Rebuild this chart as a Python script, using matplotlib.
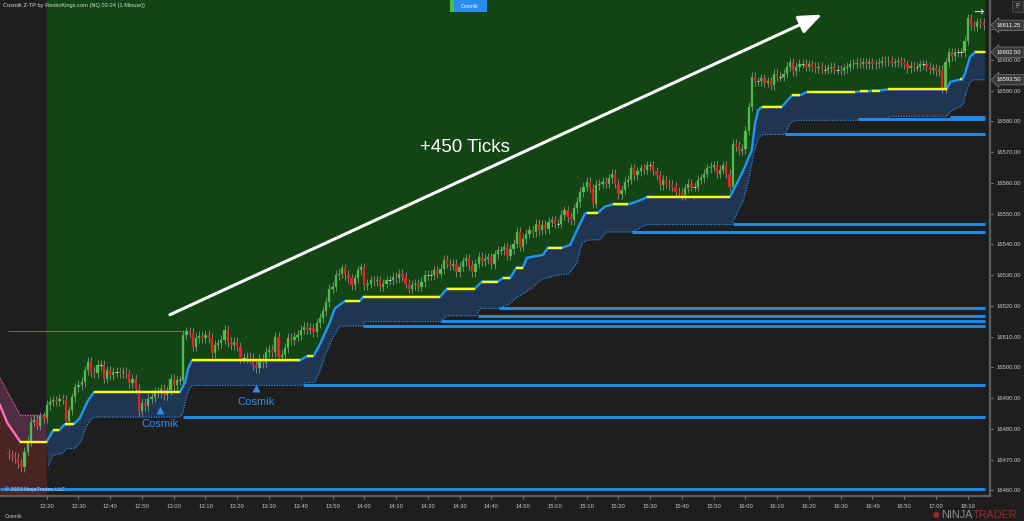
import matplotlib.pyplot as plt
import matplotlib.transforms as mtransforms
import numpy as np
from matplotlib.collections import LineCollection
from matplotlib.patches import Polygon, Rectangle

plt.rcParams['font.family'] = ['Liberation Sans', 'DejaVu Sans']

# ---- data -------------------------------------------------------------
# NQ 03-24, 1 minute bars, index 0 = 12:20 (bar before session break at 280)
first_open = 16472.0
closes = [
    16471.75, 16471, 16470.5, 16468.75, 16467.5, 16472.5, 16476, 16482.25, 16483, 16481, 16484, 16483.5, 16487.75,
    16488.75, 16489.25, 16489, 16489.75, 16489.5, 16482.5, 16486, 16490.25, 16493.5, 16494.25,
    16495.25, 16499, 16501.75, 16498.5, 16498, 16500.75, 16500.75, 16496.25, 16499, 16497.5,
    16498.5, 16498.5, 16498, 16498.5, 16498, 16494.75, 16496.25, 16493, 16485.75, 16488.5,
    16487.25, 16489.75, 16490.25, 16492, 16491.5, 16493, 16491, 16492.5, 16496.25, 16494.25,
    16495.75, 16495.75, 16510.5, 16511.75, 16511.25, 16506.75, 16509.5, 16510.25, 16509.5, 16510.5,
    16509.5, 16504.5, 16507.25, 16507.75, 16509, 16512.25, 16508.25, 16507.25, 16508.25, 16506.75,
    16503, 16503, 16503.5, 16503, 16500.75, 16499.75, 16502.75, 16501.25, 16505, 16505.75,
    16505, 16510, 16503.5, 16504, 16506.25, 16509.5, 16508.75, 16510, 16510.5, 16512.25,
    16513.25, 16512.25, 16512.75, 16511.5, 16514.25, 16516, 16518.25, 16521.25, 16525.5, 16526.25,
    16530, 16530.5, 16532.25, 16530, 16529, 16526.75, 16529, 16531.5, 16532.5, 16526.75,
    16527.25, 16528.25, 16528, 16528.25, 16526.25, 16527.25, 16528.25, 16528.25, 16529.5, 16529,
    16530.5, 16529.5, 16527.25, 16525.5, 16526.75, 16527.25, 16526.25, 16527.75, 16530, 16530,
    16530, 16531.5, 16530.5, 16532, 16535, 16533.75, 16533, 16533.75, 16531, 16532.75,
    16534.5, 16535.5, 16533.25, 16531, 16533.75, 16536, 16534.5, 16535.25, 16535.75, 16533.5,
    16536.75, 16538, 16538, 16539, 16536.25, 16538.5, 16540.25, 16544, 16539.25, 16541.75,
    16543.5, 16544.5, 16544, 16546.75, 16544.5, 16546.25, 16545, 16547.25, 16547.75, 16546.75,
    16546.75, 16549.5, 16551, 16548.75, 16547.75, 16551.75, 16553.75, 16557, 16558.75, 16560.25,
    16558.25, 16553.25, 16559.25, 16559.75, 16560.25, 16559.75, 16561.5, 16563, 16559.75, 16556.25,
    16557.75, 16560.25, 16561, 16564.75, 16562.5, 16563.75, 16564.75, 16564.25, 16565.75, 16565.75,
    16563.75, 16562.5, 16559.25, 16561, 16559.75, 16559.25, 16558.75, 16557,
    16556.75, 16556, 16558.25, 16559.75, 16558.75, 16558.75, 16561, 16561.5, 16563, 16564.75,
    16565.25, 16565.75, 16563, 16564.25, 16565.75, 16563, 16558.75, 16572.75, 16572, 16570.5,
    16571, 16577, 16584.75, 16594.5, 16593, 16593, 16594, 16592.5, 16593, 16591.75,
    16595.5, 16594.5, 16594.5, 16595.5, 16597.75, 16599.25, 16596.25, 16597.75, 16598.75, 16598.75,
    16597.75, 16598.5, 16597.75, 16597.25, 16597.75, 16596.75, 16596.75, 16597.25, 16597.75, 16596.75,
    16596.75, 16596.5, 16597.25, 16597.75, 16598.5, 16598.75, 16599, 16598.75, 16599.25, 16598.5,
    16599.25, 16598.5, 16598.75, 16599, 16599.75, 16599.5, 16599.75, 16599, 16599.25, 16599.5,
    16599, 16598.5, 16597.25, 16598, 16597.75, 16597.75, 16598.5, 16598.5, 16597.75, 16596.75,
    16597.25, 16596.25, 16596.75, 16590.75, 16599.25, 16602.5, 16601.25, 16602.5, 16602.5, 16602.5,
    16606.25, 16613.5, 16611.25, 16610.75, 16612.25, 16612, 16611.25,
]
bar_idx = np.arange(-12, -12 + len(closes))

# Z-TP line while short (bars, price)
down_x = [-14.7, -12.4, -8.3, 0]
down_y = [16487.7, 16481.9, 16475.75, 16475.75]
down_dot_x = [-14.7, -8.3, 0]
down_dot_y = [16496.5, 16484.4, 16484.4]

# Z-TP line while long
up_x = [0, 2, 3.9, 5.7, 8.5, 10.4, 12.8, 14.9, 42, 43.6, 44.6, 45.7, 79.7, 81.9, 84, 86.1, 89.2, 90.7,
        93.4, 93.9, 98.6, 99.6, 123.9, 126, 134.8, 137.1, 142.1, 143.7, 145.9, 147.9, 149.9, 151.2,
        156.3, 157.8, 162.3, 164.8, 166.9, 169.5, 170.1, 173.6, 175.7, 178.2, 183.1, 185.2, 187.7,
        189, 215.1, 217, 219.3, 222, 223, 224, 225.2, 231.4, 233.4, 234.7, 237.2, 239.3, 254.5,
        256.1, 258.6, 259.8, 262.3, 264.9, 283.4, 284.5, 287.6, 288.3, 289.1, 290.7, 292.3, 295.4]
up_y = [16475.75, 16479.5, 16479.5, 16481.5, 16481.5, 16483.4, 16488.8, 16492, 16492, 16495.2,
        16499.7, 16502.25, 16502.25, 16503.6, 16503.6, 16507.6, 16514.75, 16519.1, 16521.2, 16521.5,
        16521.5, 16522.9, 16522.9, 16525.6, 16525.6, 16527.9, 16527.9, 16529.05, 16529.05, 16532.4,
        16532.4, 16535.6, 16536.6, 16538.9, 16538.9, 16539.8, 16544.5, 16550, 16550.25, 16550.25,
        16552.25, 16552.95, 16552.95, 16553.7, 16554.7, 16555.4, 16555.4, 16559.2, 16564, 16570.6,
        16579.2, 16583.6, 16584.7, 16584.7, 16587, 16588.45, 16588.45, 16589.5, 16589.5, 16589.7,
        16589.7, 16590, 16590, 16590.4, 16590.4, 16592.8, 16593.6, 16593.6, 16595.5, 16600.9,
        16602.5, 16602.5]
low_x = [0.5, 2, 4.7, 6.3, 9, 11, 12.6, 14.1, 15.2, 42, 42.8, 44.1, 45.2, 46.2, 80.3, 80.8, 84.5,
         86.1, 87.7, 90.2, 92.3, 99.7, 100.1, 124.3, 126, 135.4, 136.4, 142.4, 145.4, 148.4, 152.1,
         156.3, 160.6, 164.3, 166.9, 168.5, 170, 174.2, 176.3, 184.2, 187.9, 189, 215.7, 217.3,
         219.3, 221, 222.6, 224.1, 225.2, 232.4, 234, 235.6, 255.4, 255.8, 264, 265.6, 283.4, 285,
         287.6, 288.6, 289.7, 290.7, 291.8, 295.4]
low_y = [16468.1, 16471.4, 16471.9, 16473.6, 16473.6, 16476.3, 16481.1, 16483.3, 16483.8, 16483.8,
         16484.9, 16490.85, 16493.6, 16494.1, 16494.1, 16494.9, 16495.2, 16499, 16503.9, 16509.9,
         16513.4, 16513.4, 16514.85, 16514.85, 16516.8, 16516.8, 16519.1, 16519.1, 16520.5, 16523,
         16525.3, 16528.8, 16529.9, 16530.4, 16533.7, 16540.2, 16541.3, 16541.5, 16544, 16544,
         16545.9, 16546.4, 16546.4, 16550, 16554.3, 16560.8, 16569.5, 16574.4, 16575.7, 16575.7,
         16579.2, 16580.3, 16580.3, 16580.9, 16580.9, 16581.6, 16581.6, 16583.6, 16584.7, 16585.8,
         16590, 16592.8, 16593.5, 16593.5]

# levels left behind by the trailing stop
sup_start = [-14.7, 42.9, 80.7, 99.6, 124.3, 135.8, 142.4, 184.2, 216.1, 232.5, 255.4, 284.4]
sup_price = [16460.4, 16483.9, 16494.2, 16513.3, 16514.9, 16516.8, 16519.2, 16544.1, 16546.5,
             16575.8, 16580.6, 16581.5]

prior_high = 16511.8
prior_high_span = (-12.2, 42.6)

sig_x = [35.7, 65.9]
sig_y = [16486.1, 16493.3]

move_from = (38.8, 16517.1)
move_to = (244.1, 16614.7)
move_label = '+450 Ticks'
move_label_at = (117.5, 16571.4)

tick_pos = list(range(0, 290, 10)) + [290]
tick_lab = ['12:20', '12:30', '12:40', '12:50', '13:00', '13:10', '13:20', '13:30', '13:40', '13:50',
            '14:00', '14:10', '14:20', '14:30', '14:40', '14:50', '15:00', '15:10', '15:20', '15:30',
            '15:40', '15:50', '16:00', '16:10', '16:20', '16:30', '16:40', '16:50', '17:00', '18:10']
price_ticks = list(range(16460, 16611, 10))
tags = [16611.25, 16602.50, 16593.50]

# ---- colours ----------------------------------------------------------
BG = '#1e1e1e'
GREEN = '#134413'
NAVY = '#1f3551'
RED_BG = '#4a2323'
PURPLE = '#4e2c41'
BLUE = '#2196f3'
SUP = '#1e88e5'
YELLOW = '#ffff00'
PINK = '#ff6eb4'
UPC = '#52c452'
DNC = '#f0232a'
WICK = 1.5

fig = plt.figure(figsize=(10.24, 5.21), dpi=100, facecolor=BG)
ax = fig.add_axes([0, 25.3 / 521, 990 / 1024, 495.7 / 521])
ax.set_facecolor(BG)
ax.set_xlim(-14.7, 297.0)
ax.set_ylim(16458.24, 16619.45)
y_bot, y_top = ax.get_ylim()

# zones
up_pts = list(zip(up_x, up_y))
ax.add_patch(Polygon([(up_x[0], y_top)] + up_pts + [(up_x[-1], y_top)], fc=GREEN, ec='none', zorder=0.5))
ax.add_patch(Polygon(up_pts + list(zip(low_x, low_y))[::-1], fc=NAVY, ec='none', zorder=0.6))
dn_pts = list(zip(down_x, down_y))
ax.add_patch(Polygon(dn_pts + [(down_x[-1], y_bot), (down_x[0], y_bot)], fc=RED_BG, ec='none', zorder=0.5))
ax.add_patch(Polygon(list(zip(down_dot_x, down_dot_y)) + dn_pts[::-1], fc=PURPLE, ec='none', zorder=0.5))

# levels
ax.hlines(sup_price, sup_start, up_x[-1], color=SUP, lw=2.2, zorder=2)
ax.hlines(prior_high, *prior_high_span, color='#8a7a70', lw=0.6, zorder=2)

# dotted band edges
ax.plot(low_x, low_y, color='#3290e8', lw=0.85, ls=(0, (1, 1.2)), zorder=3)
ax.plot(down_dot_x, down_dot_y, color=PINK, lw=0.85, ls=(0, (1, 1.2)), zorder=3)

# candles
closes = np.array(closes)
opens = np.concatenate([[first_open], closes[:-1]])
rise = closes > opens
fall = closes < opens
flat = ~(rise | fall)
lo = np.minimum(opens, closes)
hi = np.maximum(opens, closes)
ax.vlines(bar_idx, lo - WICK, hi + WICK, color='#8e8e8e', lw=0.6, zorder=3.5)
ax.bar(bar_idx[rise], (closes - opens)[rise], bottom=opens[rise], width=0.7,
       color=UPC, edgecolor='#3c9c3c', lw=0.3, zorder=4)
ax.bar(bar_idx[fall], (opens - closes)[fall], bottom=closes[fall], width=0.7,
       color=DNC, edgecolor='#b01a1a', lw=0.3, zorder=4)
ax.hlines(closes[flat], bar_idx[flat] - 0.4, bar_idx[flat] + 0.4, color='#d0d0d0', lw=0.7, zorder=4)

# trailing line: coloured by slope
ax.plot(up_x, up_y, color=BLUE, lw=1.7, solid_joinstyle='round', zorder=5)
ax.plot(down_x[:-1], down_y[:-1], color=PINK, lw=1.7, solid_joinstyle='round', zorder=5)
flat_segs = []
for xs, ys in ((up_x, up_y), (down_x, down_y)):
    for k in range(len(xs) - 1):
        if ys[k] == ys[k + 1]:
            flat_segs.append([(xs[k], ys[k]), (xs[k + 1], ys[k + 1])])
ax.add_collection(LineCollection(flat_segs, colors=YELLOW, linewidths=1.7, capstyle='butt', zorder=5.5))

# signals
ax.plot(sig_x, sig_y, '^', color='#2b8ef0', ms=5.5, mec='none', zorder=6)
for sx, sy in zip(sig_x, sig_y):
    ax.annotate('Cosmik', (sx, sy), xytext=(0, -10), textcoords='offset points',
                ha='center', va='center', color='#2b8ef0', fontsize=8, zorder=6)

# move annotation
ax.annotate('', xy=move_to, xytext=move_from,
            arrowprops=dict(arrowstyle='-|>,head_length=1.0,head_width=0.4', color='white',
                            lw=2.2, mutation_scale=14, shrinkA=0, shrinkB=0), zorder=7)
ax.text(*move_label_at, move_label, color='white', fontsize=13.5, ha='left', va='center', zorder=7)

# axes styling
for s in ('top', 'left'):
    ax.spines[s].set_visible(False)
for s in ('right', 'bottom'):
    ax.spines[s].set_color('#5e5e5e')
    ax.spines[s].set_linewidth(1.6)
ax.yaxis.tick_right()
ax.set_yticks(price_ticks)
ax.set_yticklabels([f'{v:.2f}' for v in price_ticks])
ax.set_xticks(tick_pos)
ax.set_xticklabels(tick_lab)
ax.tick_params(axis='both', colors='#7a7a7a', labelcolor='#c8c8c8', labelsize=4.2,
               length=2.2, width=0.8)
ax.tick_params(axis='y', pad=2.5)
ax.tick_params(axis='x', pad=4.0)

# price markers
tag_tr = mtransforms.blended_transform_factory(fig.transFigure, ax.transData)
for p in tags:
    ax.text(997 / 1024, p, f'{p:.2f}', transform=tag_tr, fontsize=4.2, color='white',
            ha='left', va='center', clip_on=False, zorder=10,
            bbox=dict(boxstyle='larrow,pad=0.45', fc='#3a3a3a', ec='#8c8c8c', lw=0.4))

# chrome
fig.text(3 / 1024, 1 - 6 / 521, 'Cosmik Z-TP by RenkoKings.com (NQ 03-24 (1 Minute))',
         fontsize=4.1, color='#d8d8d8', ha='left', va='center')
fig.text(5 / 1024, 1 - 489 / 521, '\u00a9 2023 NinjaTrader, LLC', fontsize=3.9, color='#d0d0d0',
         ha='left', va='center')
fig.text(5 / 1024, 1 - 516 / 521, 'Cosmik', fontsize=3.8, color='#c8c8c8', ha='left', va='center')
fig.add_artist(Rectangle((450 / 1024, 1 - 12 / 521), 37 / 1024, 12 / 521, transform=fig.transFigure,
                         fc='#2a8af0', ec='none'))
fig.add_artist(Rectangle((450 / 1024, 1 - 12 / 521), 4 / 1024, 12 / 521, transform=fig.transFigure,
                         fc='#3cc43c', ec='none'))
fig.text(470 / 1024, 1 - 6 / 521, 'Cosmik', fontsize=3.8, color='white', ha='center', va='center')
fig.add_artist(Rectangle((1012 / 1024, 1 - 12 / 521), 11 / 1024, 11 / 521, transform=fig.transFigure,
                         fc='#2a2a2a', ec='#555555', lw=0.5))
fig.text(1017.5 / 1024, 1 - 6.5 / 521, 'F', fontsize=5, color='#bbbbbb', ha='center', va='center')
fig.text(979 / 1024, 1 - 12 / 521, '\u2192', fontsize=9, color='#d0d0d0', ha='center', va='center',
         family='DejaVu Sans')
fig.text(936 / 1024, 1 - 515 / 521, '\u25cf', fontsize=5.5, color='#9b2a2e', ha='center', va='center',
         family='DejaVu Sans')
fig.text(941 / 1024, 1 - 515 / 521, 'NINJA', fontsize=7.8, color='#8e8e8e', ha='left', va='center')
fig.text(972.5 / 1024, 1 - 515 / 521, 'TRADER', fontsize=7.8, color='#9b2a2e', ha='left', va='center')

plt.savefig('out.png', dpi=100, facecolor=BG)
